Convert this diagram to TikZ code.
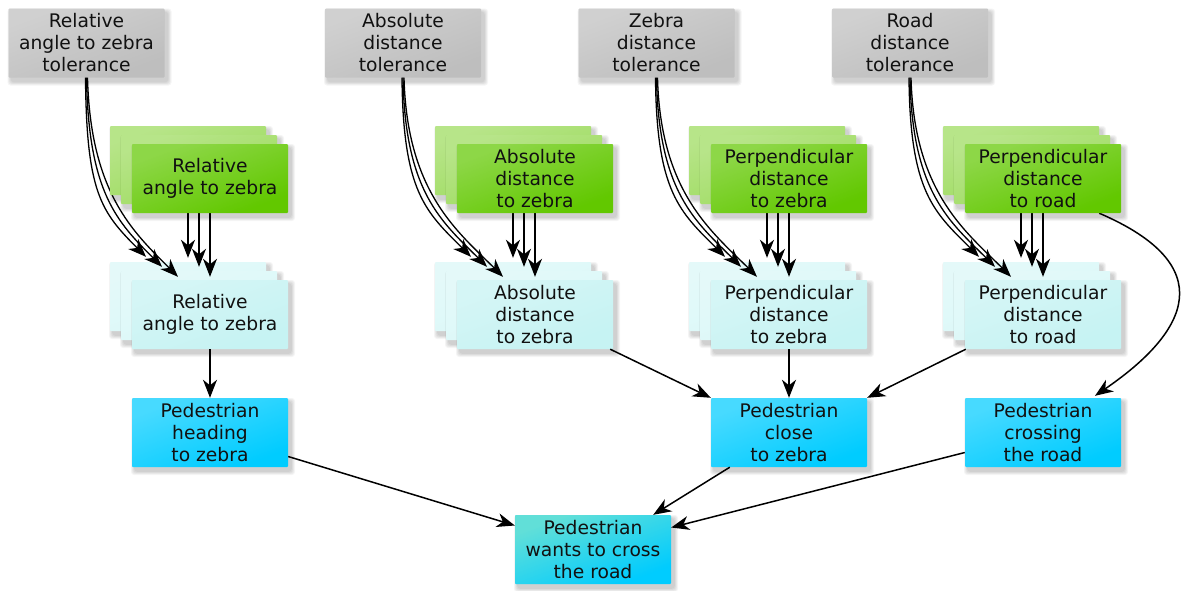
\documentclass[tikz,border=0pt]{standalone}
\usepackage{fontspec}
\newfontfamily\boxfont{DejaVu Sans}
\usetikzlibrary{arrows.meta,calc,fadings}
\definecolor{cgray}{HTML}{BEBEBE}
\definecolor{cgreen}{HTML}{62C800}
\definecolor{cgreenb}{HTML}{9CDB5C}
\definecolor{ccyan}{HTML}{C6F3F3}
\definecolor{ccyanb}{HTML}{DAF8F8}
\definecolor{cblue}{HTML}{00CCFF}
\definecolor{cmint}{HTML}{8CE8C8}
\definecolor{ctxt}{HTML}{111111}
\pgfdeclarelayer{back}
\pgfdeclarelayer{conn}
\pgfsetlayers{back,conn,main}
\tikzfading[name=glossfade, top color=transparent!30, middle color=transparent!100, bottom color=transparent!100]
\tikzset{
  box/.style={rectangle, minimum width=156pt, minimum height=69pt, inner sep=0pt,
    align=center, text=ctxt, font={\boxfont\fontsize{18.7}{22}\selectfont}},
  arr/.style={line width=1.5pt, -{Stealth[length=18pt,width=14pt,inset=5.5pt]}},
  tarr/.style={line width=1.3pt, -{Stealth[length=18pt,width=14pt,inset=5.5pt]}},
  wgloss/.style={white, fill opacity=0.4},
  mgloss/.style={cmint, fill opacity=1},
}
% #1 name, #2 centre, #3 fill, #4 gloss style, #5 text
\newcommand\mkbox[5]{%
  \begin{scope}[shift={#2}]
    \foreach \s in {1,...,5}{\fill[black, opacity=0.04, rounded corners=3pt]
      (-78+3-\s*0.8,-34.5+4-\s*0.8) rectangle (78+3+\s*0.8,34.5+4+\s*0.8);}
    \fill[#3, rounded corners=1pt] (-78,-34.5) rectangle (78,34.5);
    \fill[#4, path fading=glossfade, fading angle=40, rounded corners=1pt] (-78,-34.5) rectangle (78,34.5);
    \node[box] (#1) at (0,0) {#5};
  \end{scope}}
% #1 suffix, #2 x, #3 y, #4 back colour, #5 front colour, #6 text, #7 prefix
\newcommand\mkstack[7]{%
  \mkbox{#7b#1}{(#2-22,#3-18)}{#4}{wgloss}{}
  \mkbox{#7m#1}{(#2-11,#3-9)}{#4}{wgloss}{}
  \mkbox{#7f#1}{(#2,#3)}{#5}{wgloss}{#6}}
\begin{document}
\begin{tikzpicture}[x=1pt,y=-1pt]
\useasboundingbox (0,0) rectangle (1186,590);
\begin{pgfonlayer}{back}
  \mkbox{g1}{(86.5,43)}{cgray}{wgloss}{Relative\\angle to zebra\\tolerance}
  \mkbox{g2}{(403,43)}{cgray}{wgloss}{Absolute\\distance\\tolerance}
  \mkbox{g3}{(656.5,43)}{cgray}{wgloss}{Zebra\\distance\\tolerance}
  \mkbox{g4}{(910,43)}{cgray}{wgloss}{Road\\distance\\tolerance}
  \mkstack{1}{210}{314.5}{ccyanb}{ccyan}{Relative\\angle to zebra}{cy}
  \mkstack{2}{535}{314.5}{ccyanb}{ccyan}{Absolute\\distance\\to zebra}{cy}
  \mkstack{3}{789}{314.5}{ccyanb}{ccyan}{Perpendicular\\distance\\to zebra}{cy}
  \mkstack{4}{1043}{314.5}{ccyanb}{ccyan}{Perpendicular\\distance\\to road}{cy}
  \mkbox{b1}{(210,432.5)}{cblue}{wgloss}{Pedestrian\\heading\\to zebra}
  \mkbox{b3}{(789,432.5)}{cblue}{wgloss}{Pedestrian\\close\\to zebra}
  \mkbox{b4}{(1043,432.5)}{cblue}{wgloss}{Pedestrian\\crossing\\the road}
  \mkbox{bot}{(593,549.5)}{cblue}{mgloss}{Pedestrian\\wants to cross\\the road}
\end{pgfonlayer}
\mkstack{1}{210}{178.5}{cgreenb}{cgreen}{Relative\\angle to zebra}{gr}
\mkstack{2}{535}{178.5}{cgreenb}{cgreen}{Absolute\\distance\\to zebra}{gr}
\mkstack{3}{789}{178.5}{cgreenb}{cgreen}{Perpendicular\\distance\\to zebra}{gr}
\mkstack{4}{1043}{178.5}{cgreenb}{cgreen}{Perpendicular\\distance\\to road}{gr}
\begin{pgfonlayer}{conn}
  \foreach \k in {1,2,3,4}{
    \draw[tarr] ($(g\k.south)+(-1,0)$) .. controls +(1,115) and +(-45,-45) .. ($(cyb\k.north)+(-42,-5)$);
    \draw[tarr] (g\k.south) .. controls +(2,115) and +(-45,-45) .. ($(cym\k.north)+(-37,-4)$);
    \draw[tarr] ($(g\k.south)+(1,0)$) .. controls +(3,115) and +(-45,-45) .. ($(cyf\k.north)+(-32,-3)$);
    \draw[arr, shorten >=4pt] (grb\k.south) -- (cyb\k.north);
    \draw[arr, shorten >=4pt] (grm\k.south) -- (cym\k.north);
    \draw[arr, shorten >=3pt] (grf\k.south) -- (cyf\k.north);
  }
  \draw[arr] (cyf1.south) -- (b1.north);
  \draw[arr] ($(cyf2.south east)+(-3,0)$) -- (b3.north west);
  \draw[arr] (cyf3.south) -- (b3.north);
  \draw[arr] ($(cyf4.south west)+(1,0)$) -- (b3.north east);
  \draw[arr] ($(grf4.south east)+(-22,0)$) .. controls +(121,52) and +(95,-65) .. ($(b4.north)+(52,-2)$);
  \draw[arr] ($(b1.east)+(0,24)$) -- ($(bot.west)+(0,-24)$);
  \draw[arr] ($(b3.south west)+(19,0)$) -- ($(bot.north east)+(-18,0)$);
  \draw[arr] ($(b4.west)+(0,20)$) -- ($(bot.east)+(0,-22)$);
\end{pgfonlayer}
\end{tikzpicture}
\end{document}
